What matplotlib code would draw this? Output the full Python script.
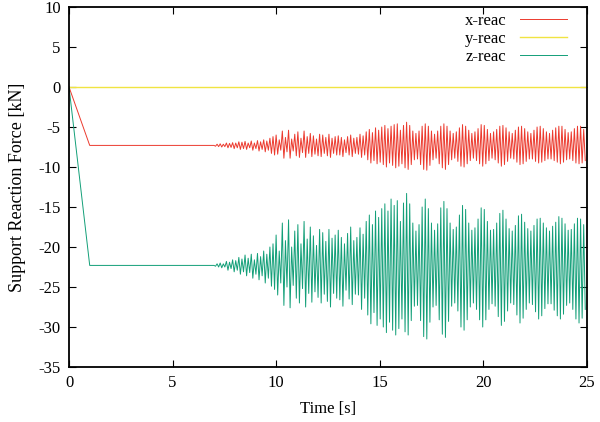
import numpy as np
import matplotlib
matplotlib.use('Agg')
import matplotlib.pyplot as plt

plt.rcParams['font.family'] = ['Liberation Serif', 'DejaVu Serif']
plt.rcParams['axes.unicode_minus'] = False

# ramp-up part (time [s], force [kN])
rampT = [0.0, 1.0, 7.0]
rampX = [0.0, -7.3, -7.3]
rampY = [0.0, 0.0, 0.0]
rampZ = [0.0, -22.3, -22.3]

# oscillating part: peaks at 7.0, 7.15, ... 24.85 s, troughs 0.075 s after each peak
xPeaks = [-7.2, -7.15, -7.1, -7.15, -7.0, -7.05, -6.95, -7.0, -6.85, -6.9,
          -6.8, -7.0, -6.75, -7.0, -6.7, -6.85, -6.6, -6.75, -6.4, -6.2,
          -6.0, -6.6, -5.5, -6.3, -5.4, -6.5, -5.9, -5.6, -6.4, -5.5,
          -6.2, -5.8, -6.1, -6.5, -5.9, -6.0, -6.3, -5.9, -6.4, -6.2,
          -6.1, -6.3, -6.6, -6.2, -6.0, -6.4, -6.3, -5.9, -6.1, -5.6,
          -5.3, -5.7, -5.1, -5.4, -5.0, -4.8, -5.2, -4.9, -4.7, -4.6,
          -5.4, -4.8, -4.4, -4.8, -5.5, -5.8, -5.5, -4.9, -4.6, -4.9,
          -5.5, -5.9, -5.5, -4.9, -4.6, -4.9, -5.5, -5.8, -5.6, -5.1,
          -4.7, -4.9, -5.4, -5.8, -5.6, -5.2, -4.7, -4.8, -5.3, -5.8,
          -5.6, -5.3, -4.9, -4.8, -5.1, -5.6, -5.8, -5.4, -5.0, -4.9,
          -5.2, -5.6, -5.8, -5.4, -5.0, -4.9, -5.2, -5.6, -5.8, -5.4,
          -5.1, -4.9, -4.9, -5.3, -5.7, -5.6, -5.2, -4.9, -4.9, -5.3]
xTroughs = [-7.4, -7.45, -7.5, -7.45, -7.6, -7.55, -7.7, -7.6, -7.8, -7.7,
            -7.8, -7.6, -7.9, -7.7, -8.0, -7.8, -8.1, -7.9, -8.3, -8.5,
            -8.4, -7.9, -8.9, -8.1, -8.9, -8.0, -8.6, -8.8, -8.2, -8.8,
            -8.3, -8.7, -8.4, -8.6, -8.7, -8.3, -8.6, -8.8, -8.3, -8.5,
            -8.5, -8.7, -8.2, -8.5, -8.7, -8.3, -8.4, -8.8, -8.5, -9.1,
            -9.5, -9.2, -9.6, -9.4, -9.7, -10.0, -9.5, -9.8, -10.1, -9.9,
            -9.6, -10.1, -10.3, -9.7, -9.1, -9.0, -9.7, -10.3, -10.4, -9.8,
            -9.1, -8.9, -9.6, -10.1, -10.3, -9.7, -9.1, -8.9, -9.3, -9.9,
            -10.0, -9.6, -9.2, -8.9, -9.2, -9.6, -9.9, -9.6, -9.2, -8.9,
            -9.1, -9.5, -9.9, -9.7, -9.3, -8.9, -9.0, -9.4, -9.7, -9.6,
            -9.3, -9.0, -9.0, -9.3, -9.5, -9.4, -9.2, -9.0, -9.0, -9.2,
            -9.4, -9.6, -9.4, -9.1, -9.0, -9.2, -9.5, -9.6, -9.5, -9.2]
zPeaks = [-22.2, -22.1, -22.0, -22.1, -21.8, -21.9, -21.6, -21.7, -21.3, -21.5,
          -21.0, -21.4, -20.9, -21.6, -20.8, -21.2, -20.5, -20.9, -20.0, -19.6,
          -18.5, -20.5, -17.0, -19.2, -16.6, -20.0, -18.0, -17.2, -19.6, -16.8,
          -19.0, -17.5, -18.6, -19.8, -17.8, -18.2, -19.3, -17.8, -18.9, -18.5,
          -17.9, -18.8, -19.6, -18.3, -17.5, -19.2, -18.8, -17.6, -18.4, -16.8,
          -16.0, -17.2, -15.5, -16.3, -15.2, -14.6, -15.5, -14.0, -14.8, -14.2,
          -16.8, -14.5, -13.3, -14.6, -17.0, -18.0, -17.2, -15.0, -14.0, -15.2,
          -17.0, -17.9, -17.1, -15.1, -14.3, -15.2, -17.0, -17.8, -17.5, -16.0,
          -14.8, -15.3, -17.0, -17.9, -17.6, -16.5, -15.1, -15.3, -16.8, -17.9,
          -17.8, -17.0, -15.8, -15.4, -16.5, -17.7, -18.0, -17.3, -16.1, -15.9,
          -16.9, -17.7, -18.0, -17.3, -16.5, -16.4, -17.0, -17.6, -18.0, -17.4,
          -16.9, -16.2, -16.4, -17.1, -17.9, -17.8, -17.1, -16.4, -16.5, -17.2]
zTroughs = [-22.4, -22.5, -22.6, -22.5, -22.9, -22.7, -23.1, -22.9, -23.4, -23.1,
            -23.6, -23.2, -23.9, -23.4, -24.1, -23.6, -24.5, -23.9, -24.9, -25.3,
            -26.0, -24.5, -27.3, -25.0, -27.6, -24.8, -26.4, -27.0, -25.2, -27.5,
            -25.8, -26.9, -25.6, -26.3, -27.0, -25.9, -26.8, -27.5, -25.8, -26.4,
            -26.6, -27.4, -25.4, -26.5, -27.2, -25.9, -26.0, -27.8, -26.4, -28.5,
            -29.6, -28.2, -29.8, -29.0, -30.0, -30.7, -29.4, -30.4, -31.0, -30.2,
            -29.0, -30.6, -31.0, -29.2, -27.4, -27.3, -29.2, -31.2, -31.5, -29.4,
            -27.5, -27.3, -29.1, -30.9, -31.3, -29.3, -27.4, -27.0, -28.0, -30.0,
            -30.4, -29.1, -27.5, -27.0, -27.8, -29.1, -30.0, -29.1, -27.8, -27.1,
            -27.4, -28.7, -29.8, -29.3, -28.0, -27.0, -27.2, -28.5, -29.5, -28.9,
            -27.8, -27.0, -27.2, -28.1, -29.0, -28.6, -27.7, -27.1, -27.1, -27.9,
            -28.6, -29.0, -28.4, -27.3, -27.0, -27.8, -29.0, -29.5, -28.9, -27.8]

oscT = 7.0 + 0.075*np.arange(2*len(xPeaks))


def joinSeries(rampVals, peaks, troughs):
    osc = np.empty(2*len(peaks))
    osc[0::2] = peaks
    osc[1::2] = troughs
    t = np.concatenate([rampT, oscT[1:]])
    v = np.concatenate([rampVals, osc[1:]])
    return t, v


tX, vX = joinSeries(rampX, xPeaks, xTroughs)
tZ, vZ = joinSeries(rampZ, zPeaks, zTroughs)

fig = plt.figure(figsize=(6, 4.22), dpi=100)
ax = fig.add_axes([0.115, 0.1303, 0.863, 0.8531])

ax.plot(tX, vX, color='#ec3a2e', lw=0.7, label='x-reac')
ax.plot([0, 25], [0, 0], color='#f0e442', lw=1.0, label='y-reac')
ax.plot(tZ, vZ, color='#129f78', lw=0.7, label='z-reac')

ax.set_xlim(0, 25)
ax.set_ylim(-35, 10)
ax.set_xticks(np.arange(0, 26, 5))
ax.set_yticks(np.arange(-35, 11, 5))
ax.tick_params(direction='in', top=True, right=True, length=5, width=0.8,
               labelsize=12, colors='black', pad=6)
for s in ax.spines.values():
    s.set_linewidth(1.3)

ax.set_xlabel('Time [s]', fontsize=12, labelpad=7)
ax.set_ylabel('Support Reaction Force [kN]', fontsize=13, labelpad=9)

leg = ax.legend(loc='upper right', markerfirst=False, frameon=False, fontsize=12,
                handlelength=2.8, handletextpad=0.8, labelspacing=0.12,
                bbox_to_anchor=(0.99, 1.025))
for t in leg.get_texts():
    t.set_ha('right')

fig.savefig('out.png', dpi=100)
